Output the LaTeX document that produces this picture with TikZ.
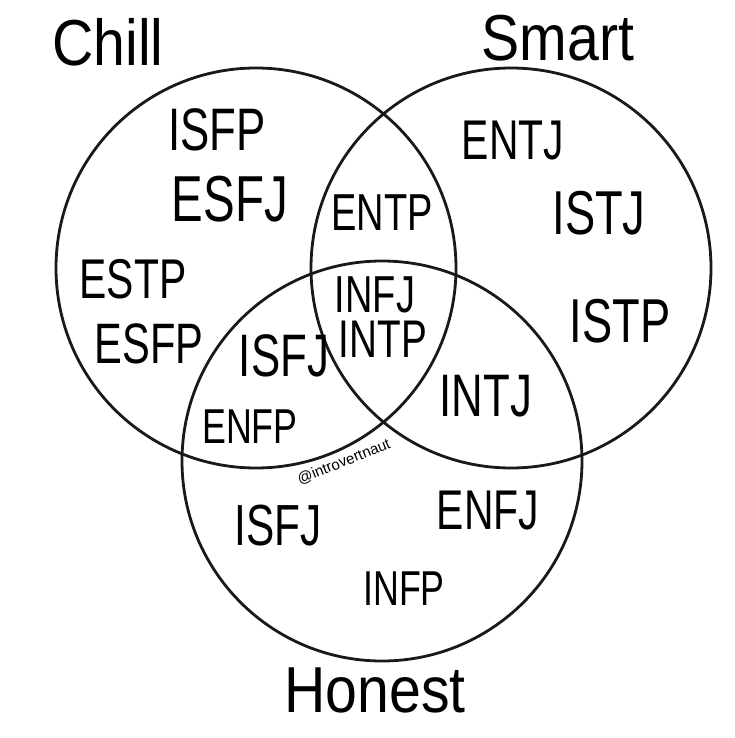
\documentclass[tikz,border=0pt]{standalone}
\usepackage{fontspec}
\setmainfont{Liberation Sans}
\newfontfamily\typefont[FakeStretch=0.73]{Liberation Sans}
\newfontfamily\labelfont[FakeStretch=0.88]{Liberation Sans}
\begin{document}
\begin{tikzpicture}[x=1pt,y=-1pt,
  ring/.style={draw=black!90, line width=2.8pt, circle, minimum size=400pt, inner sep=0pt},
  mbti/.style={inner sep=0pt, font=\typefont\fontsize{#1}{#1}\selectfont},
  setlabel/.style={inner sep=0pt, font=\labelfont\fontsize{65}{65}\selectfont},
  mark credit/.style={inner sep=0pt, rotate=22, font=\fontsize{15}{15}\selectfont}]
\path[use as bounding box, fill=white] (0,0) rectangle (735,738);
\node[ring] (chill) at (256,268) {};
\node[ring] (smart) at (511,268) {};
\node[ring] (honest) at (382,461) {};
\node[setlabel] (lchill) at (108,42) {Chill};
\node[setlabel] (lsmart) at (558,38) {Smart};
\node[setlabel] (lhonest) at (375,690) {Honest};
\node[mbti=60] (isfp) at (217,130) {ISFP};
\node[mbti=65] (esfj) at (230,199) {ESFJ};
\node[mbti=52] (entp) at (382,213) {ENTP};
\node[mbti=56] (entj) at (513,141) {ENTJ};
\node[mbti=62] (istj) at (599,213) {ISTJ};
\node[mbti=56] (estp) at (133,279) {ESTP};
\node[mbti=57] (esfp) at (149,344) {ESFP};
\node[mbti=52] (infj) at (375,295) {INFJ};
\node[mbti=53] (intp) at (383,339) {INTP};
\node[mbti=62] (istp) at (620,321) {ISTP};
\node[mbti=60] (isfjA) at (284,356) {ISFJ};
\node[mbti=60] (intj) at (486,396) {INTJ};
\node[mbti=49] (enfp) at (250,427) {ENFP};
\node[mbti=58] (isfjB) at (278,526) {ISFJ};
\node[mbti=56] (enfj) at (488,511) {ENFJ};
\node[mbti=49] (infp) at (404,589) {INFP};
\node[mark credit] (credit) at (344,462) {@introvertnaut};
\end{tikzpicture}
\end{document}
